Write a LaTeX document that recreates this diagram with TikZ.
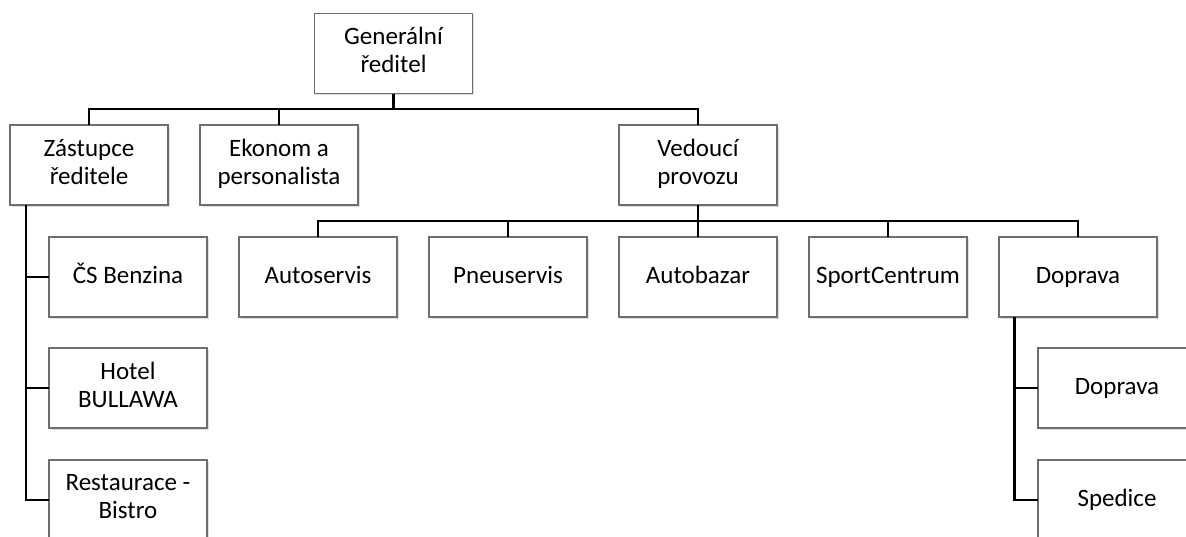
\documentclass[tikz,border=0pt]{standalone}
\usepackage{fontspec}
\setmainfont{Carlito}
\usepackage{tikz}
\usetikzlibrary{positioning,shadows}
\definecolor{boxline}{RGB}{110,110,110}
\newcommand{\boxstrut}{\rule[-7pt]{0pt}{27pt}}

\begin{document}
\begin{tikzpicture}[
    x=1pt,y=-1pt,
    node distance=31pt and 32pt,
    box/.style={draw=boxline,line width=1.1pt,fill=white,align=center,
      minimum width=158pt,minimum height=80pt,inner sep=0pt,outer sep=0pt,
      font=\fontsize{25}{28}\selectfont,
      execute at begin node=\boxstrut,execute at end node=\boxstrut,
      drop shadow={opacity=0.25,shadow xshift=1.5pt,shadow yshift=-1.5pt}},
    conn/.style={line width=2.8pt,black}
  ]
    \clip (0,0) rectangle (1186,536);
    \useasboundingbox (0,0) rectangle (1186,536);

    \node[box] (gen) at (393.5,53.5) {Generální\\ředitel};
    \node[box] (zast) at (89,165) {Zástupce\\ředitele};
    \node[box,right=of zast] (ekonom) {Ekonom a\\personalista};
    \node[box] (vedouci) at (698,165) {Vedoucí\\provozu};

    \node[box] (auto) at (318,277) {Autoservis};
    \node[box,right=of auto] (pneu) {Pneuservis};
    \node[box,right=of pneu] (bazar) {Autobazar};
    \node[box,right=of bazar] (sport) {SportCentrum};
    \node[box,right=of sport] (doprava) {Doprava};

    \node[box] (benzina) at (128,277) {ČS Benzina};
    \node[box,below=of benzina] (hotel) {Hotel\\BULLAWA};
    \node[box,below=32pt of hotel] (bistro) {Restaurace -\\Bistro};

    \node[box] (doprava2) at (1117,388) {Doprava};
    \node[box,below=32pt of doprava2] (spedice) {Spedice};

    \coordinate (bus1) at (393.5,109);
    \coordinate (bus2) at (698,221);
    \coordinate (ztop) at (26,205);
    \coordinate (dtop) at (1014.5,317);

    \draw[conn] (gen.south) -- (bus1);
    \draw[conn] (zast.north) |- (bus1) -| (vedouci.north);
    \draw[conn] (ekonom.north) -- (ekonom.north |- bus1);

    \draw[conn] (vedouci.south) -- (bus2);
    \draw[conn] (auto.north) |- (bus2) -| (doprava.north);
    \draw[conn] (pneu.north) -- (pneu.north |- bus2);
    \draw[conn] (bazar.north) -- (bus2);
    \draw[conn] (sport.north) -- (sport.north |- bus2);

    \draw[conn] (ztop) |- (bistro.west);
    \draw[conn] (benzina.west) -- (benzina.west -| ztop);
    \draw[conn] (hotel.west) -- (hotel.west -| ztop);

    \draw[conn] (dtop) |- (spedice.west);
    \draw[conn] (doprava2.west) -- (doprava2.west -| dtop);
  \end{tikzpicture}
\end{document}
